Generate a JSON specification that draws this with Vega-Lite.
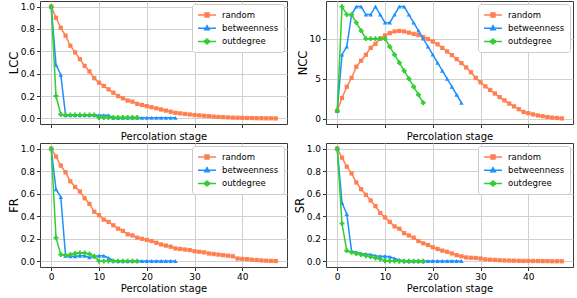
{
"$schema":"https://vega.github.io/schema/vega-lite/v6.json",
"padding":{"left":7,"top":0,"right":0,"bottom":0},
"config":{"font":"DejaVu Sans","view":{"stroke":"#3a3a3a","strokeWidth":1},
"axis":{"grid":true,"gridColor":"#d0d0d0","gridWidth":1,"domain":false,"tickColor":"#333","tickSize":3.5,"labelFontSize":9,"labelColor":"#000","titleFontSize":10,"titleFontWeight":"normal","titleColor":"#000","labelPadding":2,"titlePadding":2},
"axisY":{"titleFontSize":11.5,"titlePadding":1},
"legend":{"title":null,"orient":"top-right","offset":3,"fillColor":"white","strokeColor":"#cccccc","cornerRadius":3,"padding":5,"labelFontSize":8.5,"labelColor":"#000","symbolSize":100,"symbolOffset":4,"labelOffset":9,"rowPadding":2.2}},
"bounds":"flush",
"columns":2,
"spacing":{"row":19,"column":39},
"datasets":{"d":[
{"m":"LCC","s":"random","x":0,"y":1.0},{"m":"LCC","s":"random","x":1,"y":0.90},{"m":"LCC","s":"random","x":2,"y":0.81},{"m":"LCC","s":"random","x":3,"y":0.74},{"m":"LCC","s":"random","x":4,"y":0.65},{"m":"LCC","s":"random","x":5,"y":0.59},{"m":"LCC","s":"random","x":6,"y":0.53},{"m":"LCC","s":"random","x":7,"y":0.47},{"m":"LCC","s":"random","x":8,"y":0.42},{"m":"LCC","s":"random","x":9,"y":0.36},{"m":"LCC","s":"random","x":10,"y":0.32},{"m":"LCC","s":"random","x":11,"y":0.29},{"m":"LCC","s":"random","x":12,"y":0.26},{"m":"LCC","s":"random","x":13,"y":0.23},{"m":"LCC","s":"random","x":14,"y":0.20},{"m":"LCC","s":"random","x":15,"y":0.18},{"m":"LCC","s":"random","x":16,"y":0.16},{"m":"LCC","s":"random","x":17,"y":0.15},{"m":"LCC","s":"random","x":18,"y":0.13},{"m":"LCC","s":"random","x":19,"y":0.12},{"m":"LCC","s":"random","x":20,"y":0.11},{"m":"LCC","s":"random","x":21,"y":0.10},{"m":"LCC","s":"random","x":22,"y":0.09},{"m":"LCC","s":"random","x":23,"y":0.08},{"m":"LCC","s":"random","x":24,"y":0.07},{"m":"LCC","s":"random","x":25,"y":0.06},{"m":"LCC","s":"random","x":26,"y":0.05},{"m":"LCC","s":"random","x":27,"y":0.045},{"m":"LCC","s":"random","x":28,"y":0.04},{"m":"LCC","s":"random","x":29,"y":0.035},{"m":"LCC","s":"random","x":30,"y":0.03},{"m":"LCC","s":"random","x":31,"y":0.027},{"m":"LCC","s":"random","x":32,"y":0.024},{"m":"LCC","s":"random","x":33,"y":0.02},{"m":"LCC","s":"random","x":34,"y":0.016},{"m":"LCC","s":"random","x":35,"y":0.013},{"m":"LCC","s":"random","x":36,"y":0.011},{"m":"LCC","s":"random","x":37,"y":0.009},{"m":"LCC","s":"random","x":38,"y":0.007},{"m":"LCC","s":"random","x":39,"y":0.006},{"m":"LCC","s":"random","x":40,"y":0.005},{"m":"LCC","s":"random","x":41,"y":0.004},{"m":"LCC","s":"random","x":42,"y":0.003},{"m":"LCC","s":"random","x":43,"y":0.002},{"m":"LCC","s":"random","x":44,"y":0.002},{"m":"LCC","s":"random","x":45,"y":0.001},{"m":"LCC","s":"random","x":46,"y":0.001},{"m":"LCC","s":"random","x":47,"y":0.0},
{"m":"LCC","s":"betweenness","x":0,"y":1.0},{"m":"LCC","s":"betweenness","x":1,"y":0.48},{"m":"LCC","s":"betweenness","x":2,"y":0.39},{"m":"LCC","s":"betweenness","x":3,"y":0.03},{"m":"LCC","s":"betweenness","x":4,"y":0.03},{"m":"LCC","s":"betweenness","x":5,"y":0.03},{"m":"LCC","s":"betweenness","x":6,"y":0.03},{"m":"LCC","s":"betweenness","x":7,"y":0.03},{"m":"LCC","s":"betweenness","x":8,"y":0.03},{"m":"LCC","s":"betweenness","x":9,"y":0.03},{"m":"LCC","s":"betweenness","x":10,"y":0.028},{"m":"LCC","s":"betweenness","x":11,"y":0.028},{"m":"LCC","s":"betweenness","x":12,"y":0.028},{"m":"LCC","s":"betweenness","x":13,"y":0.005},{"m":"LCC","s":"betweenness","x":14,"y":0.005},{"m":"LCC","s":"betweenness","x":15,"y":0.005},{"m":"LCC","s":"betweenness","x":16,"y":0.005},{"m":"LCC","s":"betweenness","x":17,"y":0.005},{"m":"LCC","s":"betweenness","x":18,"y":0.005},{"m":"LCC","s":"betweenness","x":19,"y":0.005},{"m":"LCC","s":"betweenness","x":20,"y":0.005},{"m":"LCC","s":"betweenness","x":21,"y":0.005},{"m":"LCC","s":"betweenness","x":22,"y":0.005},{"m":"LCC","s":"betweenness","x":23,"y":0.005},{"m":"LCC","s":"betweenness","x":24,"y":0.005},{"m":"LCC","s":"betweenness","x":25,"y":0.005},{"m":"LCC","s":"betweenness","x":26,"y":0.005},
{"m":"LCC","s":"outdegree","x":0,"y":1.0},{"m":"LCC","s":"outdegree","x":1,"y":0.20},{"m":"LCC","s":"outdegree","x":2,"y":0.035},{"m":"LCC","s":"outdegree","x":3,"y":0.03},{"m":"LCC","s":"outdegree","x":4,"y":0.03},{"m":"LCC","s":"outdegree","x":5,"y":0.03},{"m":"LCC","s":"outdegree","x":6,"y":0.03},{"m":"LCC","s":"outdegree","x":7,"y":0.03},{"m":"LCC","s":"outdegree","x":8,"y":0.03},{"m":"LCC","s":"outdegree","x":9,"y":0.03},{"m":"LCC","s":"outdegree","x":10,"y":0.008},{"m":"LCC","s":"outdegree","x":11,"y":0.008},{"m":"LCC","s":"outdegree","x":12,"y":0.008},{"m":"LCC","s":"outdegree","x":13,"y":0.008},{"m":"LCC","s":"outdegree","x":14,"y":0.008},{"m":"LCC","s":"outdegree","x":15,"y":0.008},{"m":"LCC","s":"outdegree","x":16,"y":0.008},{"m":"LCC","s":"outdegree","x":17,"y":0.008},{"m":"LCC","s":"outdegree","x":18,"y":0.008},
{"m":"NCC","s":"random","x":0,"y":1},{"m":"NCC","s":"random","x":1,"y":2.6},{"m":"NCC","s":"random","x":2,"y":4.0},{"m":"NCC","s":"random","x":3,"y":5.1},{"m":"NCC","s":"random","x":4,"y":6.5},{"m":"NCC","s":"random","x":5,"y":7.25},{"m":"NCC","s":"random","x":6,"y":8.0},{"m":"NCC","s":"random","x":7,"y":8.85},{"m":"NCC","s":"random","x":8,"y":9.35},{"m":"NCC","s":"random","x":9,"y":10.0},{"m":"NCC","s":"random","x":10,"y":10.4},{"m":"NCC","s":"random","x":11,"y":10.7},{"m":"NCC","s":"random","x":12,"y":10.9},{"m":"NCC","s":"random","x":13,"y":10.97},{"m":"NCC","s":"random","x":14,"y":10.9},{"m":"NCC","s":"random","x":15,"y":10.75},{"m":"NCC","s":"random","x":16,"y":10.6},{"m":"NCC","s":"random","x":17,"y":10.45},{"m":"NCC","s":"random","x":18,"y":10.2},{"m":"NCC","s":"random","x":19,"y":9.95},{"m":"NCC","s":"random","x":20,"y":9.65},{"m":"NCC","s":"random","x":21,"y":9.3},{"m":"NCC","s":"random","x":22,"y":8.85},{"m":"NCC","s":"random","x":23,"y":8.4},{"m":"NCC","s":"random","x":24,"y":7.95},{"m":"NCC","s":"random","x":25,"y":7.45},{"m":"NCC","s":"random","x":26,"y":6.95},{"m":"NCC","s":"random","x":27,"y":6.4},{"m":"NCC","s":"random","x":28,"y":5.8},{"m":"NCC","s":"random","x":29,"y":5.1},{"m":"NCC","s":"random","x":30,"y":4.55},{"m":"NCC","s":"random","x":31,"y":4.05},{"m":"NCC","s":"random","x":32,"y":3.6},{"m":"NCC","s":"random","x":33,"y":3.15},{"m":"NCC","s":"random","x":34,"y":2.7},{"m":"NCC","s":"random","x":35,"y":2.3},{"m":"NCC","s":"random","x":36,"y":1.9},{"m":"NCC","s":"random","x":37,"y":1.55},{"m":"NCC","s":"random","x":38,"y":1.2},{"m":"NCC","s":"random","x":39,"y":0.85},{"m":"NCC","s":"random","x":40,"y":0.7},{"m":"NCC","s":"random","x":41,"y":0.55},{"m":"NCC","s":"random","x":42,"y":0.42},{"m":"NCC","s":"random","x":43,"y":0.32},{"m":"NCC","s":"random","x":44,"y":0.22},{"m":"NCC","s":"random","x":45,"y":0.15},{"m":"NCC","s":"random","x":46,"y":0.1},{"m":"NCC","s":"random","x":47,"y":0.05},
{"m":"NCC","s":"betweenness","x":0,"y":1},{"m":"NCC","s":"betweenness","x":1,"y":8},{"m":"NCC","s":"betweenness","x":2,"y":9},{"m":"NCC","s":"betweenness","x":3,"y":13},{"m":"NCC","s":"betweenness","x":4,"y":14},{"m":"NCC","s":"betweenness","x":5,"y":14},{"m":"NCC","s":"betweenness","x":6,"y":13},{"m":"NCC","s":"betweenness","x":7,"y":13},{"m":"NCC","s":"betweenness","x":8,"y":14},{"m":"NCC","s":"betweenness","x":9,"y":13},{"m":"NCC","s":"betweenness","x":10,"y":12},{"m":"NCC","s":"betweenness","x":11,"y":12},{"m":"NCC","s":"betweenness","x":12,"y":13},{"m":"NCC","s":"betweenness","x":13,"y":14},{"m":"NCC","s":"betweenness","x":14,"y":14},{"m":"NCC","s":"betweenness","x":15,"y":13},{"m":"NCC","s":"betweenness","x":16,"y":12},{"m":"NCC","s":"betweenness","x":17,"y":11},{"m":"NCC","s":"betweenness","x":18,"y":10},{"m":"NCC","s":"betweenness","x":19,"y":9},{"m":"NCC","s":"betweenness","x":20,"y":8},{"m":"NCC","s":"betweenness","x":21,"y":7},{"m":"NCC","s":"betweenness","x":22,"y":6},{"m":"NCC","s":"betweenness","x":23,"y":5},{"m":"NCC","s":"betweenness","x":24,"y":4},{"m":"NCC","s":"betweenness","x":25,"y":3},{"m":"NCC","s":"betweenness","x":26,"y":2},
{"m":"NCC","s":"outdegree","x":0,"y":1},{"m":"NCC","s":"outdegree","x":1,"y":14},{"m":"NCC","s":"outdegree","x":2,"y":13},{"m":"NCC","s":"outdegree","x":3,"y":13},{"m":"NCC","s":"outdegree","x":4,"y":12},{"m":"NCC","s":"outdegree","x":5,"y":11},{"m":"NCC","s":"outdegree","x":6,"y":10},{"m":"NCC","s":"outdegree","x":7,"y":10},{"m":"NCC","s":"outdegree","x":8,"y":10},{"m":"NCC","s":"outdegree","x":9,"y":10},{"m":"NCC","s":"outdegree","x":10,"y":10},{"m":"NCC","s":"outdegree","x":11,"y":9},{"m":"NCC","s":"outdegree","x":12,"y":8},{"m":"NCC","s":"outdegree","x":13,"y":7},{"m":"NCC","s":"outdegree","x":14,"y":6},{"m":"NCC","s":"outdegree","x":15,"y":5},{"m":"NCC","s":"outdegree","x":16,"y":4},{"m":"NCC","s":"outdegree","x":17,"y":3},{"m":"NCC","s":"outdegree","x":18,"y":2},
{"m":"FR","s":"random","x":0,"y":1.0},{"m":"FR","s":"random","x":1,"y":0.93},{"m":"FR","s":"random","x":2,"y":0.85},{"m":"FR","s":"random","x":3,"y":0.79},{"m":"FR","s":"random","x":4,"y":0.71},{"m":"FR","s":"random","x":5,"y":0.66},{"m":"FR","s":"random","x":6,"y":0.62},{"m":"FR","s":"random","x":7,"y":0.56},{"m":"FR","s":"random","x":8,"y":0.51},{"m":"FR","s":"random","x":9,"y":0.44},{"m":"FR","s":"random","x":10,"y":0.41},{"m":"FR","s":"random","x":11,"y":0.37},{"m":"FR","s":"random","x":12,"y":0.35},{"m":"FR","s":"random","x":13,"y":0.32},{"m":"FR","s":"random","x":14,"y":0.29},{"m":"FR","s":"random","x":15,"y":0.27},{"m":"FR","s":"random","x":16,"y":0.24},{"m":"FR","s":"random","x":17,"y":0.23},{"m":"FR","s":"random","x":18,"y":0.21},{"m":"FR","s":"random","x":19,"y":0.20},{"m":"FR","s":"random","x":20,"y":0.19},{"m":"FR","s":"random","x":21,"y":0.18},{"m":"FR","s":"random","x":22,"y":0.165},{"m":"FR","s":"random","x":23,"y":0.15},{"m":"FR","s":"random","x":24,"y":0.14},{"m":"FR","s":"random","x":25,"y":0.13},{"m":"FR","s":"random","x":26,"y":0.115},{"m":"FR","s":"random","x":27,"y":0.11},{"m":"FR","s":"random","x":28,"y":0.105},{"m":"FR","s":"random","x":29,"y":0.10},{"m":"FR","s":"random","x":30,"y":0.09},{"m":"FR","s":"random","x":31,"y":0.085},{"m":"FR","s":"random","x":32,"y":0.08},{"m":"FR","s":"random","x":33,"y":0.07},{"m":"FR","s":"random","x":34,"y":0.065},{"m":"FR","s":"random","x":35,"y":0.06},{"m":"FR","s":"random","x":36,"y":0.055},{"m":"FR","s":"random","x":37,"y":0.05},{"m":"FR","s":"random","x":38,"y":0.045},{"m":"FR","s":"random","x":39,"y":0.025},{"m":"FR","s":"random","x":40,"y":0.022},{"m":"FR","s":"random","x":41,"y":0.02},{"m":"FR","s":"random","x":42,"y":0.015},{"m":"FR","s":"random","x":43,"y":0.012},{"m":"FR","s":"random","x":44,"y":0.008},{"m":"FR","s":"random","x":45,"y":0.006},{"m":"FR","s":"random","x":46,"y":0.004},{"m":"FR","s":"random","x":47,"y":0.003},
{"m":"FR","s":"betweenness","x":0,"y":1.0},{"m":"FR","s":"betweenness","x":1,"y":0.64},{"m":"FR","s":"betweenness","x":2,"y":0.57},{"m":"FR","s":"betweenness","x":3,"y":0.05},{"m":"FR","s":"betweenness","x":4,"y":0.045},{"m":"FR","s":"betweenness","x":5,"y":0.045},{"m":"FR","s":"betweenness","x":6,"y":0.05},{"m":"FR","s":"betweenness","x":7,"y":0.05},{"m":"FR","s":"betweenness","x":8,"y":0.035},{"m":"FR","s":"betweenness","x":9,"y":0.045},{"m":"FR","s":"betweenness","x":10,"y":0.05},{"m":"FR","s":"betweenness","x":11,"y":0.05},{"m":"FR","s":"betweenness","x":12,"y":0.03},{"m":"FR","s":"betweenness","x":13,"y":0.008},{"m":"FR","s":"betweenness","x":14,"y":0.003},{"m":"FR","s":"betweenness","x":15,"y":0.003},{"m":"FR","s":"betweenness","x":16,"y":0.003},{"m":"FR","s":"betweenness","x":17,"y":0.003},{"m":"FR","s":"betweenness","x":18,"y":0.003},{"m":"FR","s":"betweenness","x":19,"y":0.003},{"m":"FR","s":"betweenness","x":20,"y":0.003},{"m":"FR","s":"betweenness","x":21,"y":0.003},{"m":"FR","s":"betweenness","x":22,"y":0.003},{"m":"FR","s":"betweenness","x":23,"y":0.003},{"m":"FR","s":"betweenness","x":24,"y":0.003},{"m":"FR","s":"betweenness","x":25,"y":0.003},{"m":"FR","s":"betweenness","x":26,"y":0.003},
{"m":"FR","s":"outdegree","x":0,"y":1.0},{"m":"FR","s":"outdegree","x":1,"y":0.21},{"m":"FR","s":"outdegree","x":2,"y":0.06},{"m":"FR","s":"outdegree","x":3,"y":0.055},{"m":"FR","s":"outdegree","x":4,"y":0.06},{"m":"FR","s":"outdegree","x":5,"y":0.07},{"m":"FR","s":"outdegree","x":6,"y":0.075},{"m":"FR","s":"outdegree","x":7,"y":0.075},{"m":"FR","s":"outdegree","x":8,"y":0.065},{"m":"FR","s":"outdegree","x":9,"y":0.045},{"m":"FR","s":"outdegree","x":10,"y":0.002},{"m":"FR","s":"outdegree","x":11,"y":0.002},{"m":"FR","s":"outdegree","x":12,"y":0.002},{"m":"FR","s":"outdegree","x":13,"y":0.002},{"m":"FR","s":"outdegree","x":14,"y":0.002},{"m":"FR","s":"outdegree","x":15,"y":0.002},{"m":"FR","s":"outdegree","x":16,"y":0.002},{"m":"FR","s":"outdegree","x":17,"y":0.002},{"m":"FR","s":"outdegree","x":18,"y":0.002},
{"m":"SR","s":"random","x":0,"y":1.0},{"m":"SR","s":"random","x":1,"y":0.92},{"m":"SR","s":"random","x":2,"y":0.84},{"m":"SR","s":"random","x":3,"y":0.78},{"m":"SR","s":"random","x":4,"y":0.70},{"m":"SR","s":"random","x":5,"y":0.64},{"m":"SR","s":"random","x":6,"y":0.59},{"m":"SR","s":"random","x":7,"y":0.54},{"m":"SR","s":"random","x":8,"y":0.49},{"m":"SR","s":"random","x":9,"y":0.43},{"m":"SR","s":"random","x":10,"y":0.39},{"m":"SR","s":"random","x":11,"y":0.35},{"m":"SR","s":"random","x":12,"y":0.31},{"m":"SR","s":"random","x":13,"y":0.29},{"m":"SR","s":"random","x":14,"y":0.25},{"m":"SR","s":"random","x":15,"y":0.23},{"m":"SR","s":"random","x":16,"y":0.21},{"m":"SR","s":"random","x":17,"y":0.18},{"m":"SR","s":"random","x":18,"y":0.16},{"m":"SR","s":"random","x":19,"y":0.145},{"m":"SR","s":"random","x":20,"y":0.125},{"m":"SR","s":"random","x":21,"y":0.11},{"m":"SR","s":"random","x":22,"y":0.095},{"m":"SR","s":"random","x":23,"y":0.085},{"m":"SR","s":"random","x":24,"y":0.07},{"m":"SR","s":"random","x":25,"y":0.055},{"m":"SR","s":"random","x":26,"y":0.045},{"m":"SR","s":"random","x":27,"y":0.035},{"m":"SR","s":"random","x":28,"y":0.032},{"m":"SR","s":"random","x":29,"y":0.03},{"m":"SR","s":"random","x":30,"y":0.025},{"m":"SR","s":"random","x":31,"y":0.018},{"m":"SR","s":"random","x":32,"y":0.015},{"m":"SR","s":"random","x":33,"y":0.013},{"m":"SR","s":"random","x":34,"y":0.01},{"m":"SR","s":"random","x":35,"y":0.008},{"m":"SR","s":"random","x":36,"y":0.007},{"m":"SR","s":"random","x":37,"y":0.006},{"m":"SR","s":"random","x":38,"y":0.005},{"m":"SR","s":"random","x":39,"y":0.004},{"m":"SR","s":"random","x":40,"y":0.004},{"m":"SR","s":"random","x":41,"y":0.003},{"m":"SR","s":"random","x":42,"y":0.003},{"m":"SR","s":"random","x":43,"y":0.002},{"m":"SR","s":"random","x":44,"y":0.002},{"m":"SR","s":"random","x":45,"y":0.001},{"m":"SR","s":"random","x":46,"y":0.001},{"m":"SR","s":"random","x":47,"y":0.001},
{"m":"SR","s":"betweenness","x":0,"y":1.0},{"m":"SR","s":"betweenness","x":1,"y":0.52},{"m":"SR","s":"betweenness","x":2,"y":0.42},{"m":"SR","s":"betweenness","x":3,"y":0.09},{"m":"SR","s":"betweenness","x":4,"y":0.08},{"m":"SR","s":"betweenness","x":5,"y":0.07},{"m":"SR","s":"betweenness","x":6,"y":0.065},{"m":"SR","s":"betweenness","x":7,"y":0.06},{"m":"SR","s":"betweenness","x":8,"y":0.05},{"m":"SR","s":"betweenness","x":9,"y":0.045},{"m":"SR","s":"betweenness","x":10,"y":0.045},{"m":"SR","s":"betweenness","x":11,"y":0.04},{"m":"SR","s":"betweenness","x":12,"y":0.025},{"m":"SR","s":"betweenness","x":13,"y":0.012},{"m":"SR","s":"betweenness","x":14,"y":0.005},{"m":"SR","s":"betweenness","x":15,"y":0.003},{"m":"SR","s":"betweenness","x":16,"y":0.003},{"m":"SR","s":"betweenness","x":17,"y":0.003},{"m":"SR","s":"betweenness","x":18,"y":0.003},{"m":"SR","s":"betweenness","x":19,"y":0.003},{"m":"SR","s":"betweenness","x":20,"y":0.003},{"m":"SR","s":"betweenness","x":21,"y":0.003},{"m":"SR","s":"betweenness","x":22,"y":0.003},{"m":"SR","s":"betweenness","x":23,"y":0.003},{"m":"SR","s":"betweenness","x":24,"y":0.003},{"m":"SR","s":"betweenness","x":25,"y":0.003},{"m":"SR","s":"betweenness","x":26,"y":0.003},
{"m":"SR","s":"outdegree","x":0,"y":1.0},{"m":"SR","s":"outdegree","x":1,"y":0.335},{"m":"SR","s":"outdegree","x":2,"y":0.095},{"m":"SR","s":"outdegree","x":3,"y":0.08},{"m":"SR","s":"outdegree","x":4,"y":0.07},{"m":"SR","s":"outdegree","x":5,"y":0.06},{"m":"SR","s":"outdegree","x":6,"y":0.05},{"m":"SR","s":"outdegree","x":7,"y":0.04},{"m":"SR","s":"outdegree","x":8,"y":0.03},{"m":"SR","s":"outdegree","x":9,"y":0.02},{"m":"SR","s":"outdegree","x":10,"y":0.006},{"m":"SR","s":"outdegree","x":11,"y":0.003},{"m":"SR","s":"outdegree","x":12,"y":0.002},{"m":"SR","s":"outdegree","x":13,"y":0.001},{"m":"SR","s":"outdegree","x":14,"y":0.001},{"m":"SR","s":"outdegree","x":15,"y":0.001},{"m":"SR","s":"outdegree","x":16,"y":0.001},{"m":"SR","s":"outdegree","x":17,"y":0.001},{"m":"SR","s":"outdegree","x":18,"y":0.001}
]},
"data":{"name":"d"},
"concat":[
{"width":247,"height":123,"transform":[{"filter":"datum.m==='LCC'"}],
 "encoding":{
  "x":{"field":"x","type":"quantitative","scale":{"domain":[-2.35,49.35],"nice":false,"zero":false},"axis":{"values":[0,10,20,30,40],"labels":false,"title":"Percolation stage","titlePadding":3}},
  "y":{"field":"y","type":"quantitative","scale":{"domain":[-0.05,1.05],"nice":false,"zero":false},"axis":{"values":[0,0.2,0.4,0.6,0.8,1.0],"format":".1f","title":"LCC"}},
  "color":{"field":"s","type":"nominal","scale":{"domain":["random","betweenness","outdegree"],"range":["#FF7F50","#1E90FF","#32CD32"]},
   "legend":{"encode":{"symbols":{"update":{"shape":{"signal":"datum.value==='random'?'M-1.8,0H1.8M-0.4,-0.4H0.4V0.4H-0.4Z':datum.value==='betweenness'?'M-1.8,0H1.8M0,-0.5L0.45,0.3H-0.45Z':'M-1.8,0H1.8M-0.15,-0.45H0.15V-0.15H0.45V0.15H0.15V0.45H-0.15V0.15H-0.45V-0.15H-0.15Z'"},"fill":{"signal":"datum.value==='random'?'#FF7F50':datum.value==='betweenness'?'#1E90FF':'#32CD32'"},"stroke":{"signal":"datum.value==='random'?'#FF7F50':datum.value==='betweenness'?'#1E90FF':'#32CD32'"},"strokeWidth":{"value":1.5},"opacity":{"value":1}}}}}}
 },
 "layer":[
  {"transform":[{"filter":"datum.s==='random'"}],"mark":{"type":"line","strokeWidth":1.5}},
  {"transform":[{"filter":"datum.s==='random'"}],"mark":{"type":"point","shape":"square","filled":true,"opacity":1,"size":18}},
  {"transform":[{"filter":"datum.s==='betweenness'"}],"mark":{"type":"line","strokeWidth":1.5}},
  {"transform":[{"filter":"datum.s==='betweenness'"}],"mark":{"type":"point","shape":"triangle-up","filled":true,"opacity":1,"size":20}},
  {"transform":[{"filter":"datum.s==='outdegree'"}],"mark":{"type":"line","strokeWidth":1.5}},
  {"transform":[{"filter":"datum.s==='outdegree'"}],"mark":{"type":"point","shape":"cross","filled":true,"opacity":1,"size":24}}
 ]},
{"width":247,"height":123,"transform":[{"filter":"datum.m==='NCC'"}],
 "encoding":{
  "x":{"field":"x","type":"quantitative","scale":{"domain":[-2.35,49.35],"nice":false,"zero":false},"axis":{"values":[0,10,20,30,40],"labels":false,"title":"Percolation stage","titlePadding":3}},
  "y":{"field":"y","type":"quantitative","scale":{"domain":[-0.65,14.7],"nice":false,"zero":false},"axis":{"values":[0,5,10],"title":"NCC"}},
  "color":{"field":"s","type":"nominal","scale":{"domain":["random","betweenness","outdegree"],"range":["#FF7F50","#1E90FF","#32CD32"]},
   "legend":{"encode":{"symbols":{"update":{"shape":{"signal":"datum.value==='random'?'M-1.8,0H1.8M-0.4,-0.4H0.4V0.4H-0.4Z':datum.value==='betweenness'?'M-1.8,0H1.8M0,-0.5L0.45,0.3H-0.45Z':'M-1.8,0H1.8M-0.15,-0.45H0.15V-0.15H0.45V0.15H0.15V0.45H-0.15V0.15H-0.45V-0.15H-0.15Z'"},"fill":{"signal":"datum.value==='random'?'#FF7F50':datum.value==='betweenness'?'#1E90FF':'#32CD32'"},"stroke":{"signal":"datum.value==='random'?'#FF7F50':datum.value==='betweenness'?'#1E90FF':'#32CD32'"},"strokeWidth":{"value":1.5},"opacity":{"value":1}}}}}}
 },
 "layer":[
  {"transform":[{"filter":"datum.s==='random'"}],"mark":{"type":"line","strokeWidth":1.5}},
  {"transform":[{"filter":"datum.s==='random'"}],"mark":{"type":"point","shape":"square","filled":true,"opacity":1,"size":18}},
  {"transform":[{"filter":"datum.s==='betweenness'"}],"mark":{"type":"line","strokeWidth":1.5}},
  {"transform":[{"filter":"datum.s==='betweenness'"}],"mark":{"type":"point","shape":"triangle-up","filled":true,"opacity":1,"size":20}},
  {"transform":[{"filter":"datum.s==='outdegree'"}],"mark":{"type":"line","strokeWidth":1.5}},
  {"transform":[{"filter":"datum.s==='outdegree'"}],"mark":{"type":"point","shape":"cross","filled":true,"opacity":1,"size":24}}
 ]},
{"width":247,"height":124,"transform":[{"filter":"datum.m==='FR'"}],
 "encoding":{
  "x":{"field":"x","type":"quantitative","scale":{"domain":[-2.35,49.35],"nice":false,"zero":false},"axis":{"values":[0,10,20,30,40],"title":"Percolation stage","titlePadding":2}},
  "y":{"field":"y","type":"quantitative","scale":{"domain":[-0.05,1.05],"nice":false,"zero":false},"axis":{"values":[0,0.2,0.4,0.6,0.8,1.0],"format":".1f","title":"FR"}},
  "color":{"field":"s","type":"nominal","scale":{"domain":["random","betweenness","outdegree"],"range":["#FF7F50","#1E90FF","#32CD32"]},
   "legend":{"encode":{"symbols":{"update":{"shape":{"signal":"datum.value==='random'?'M-1.8,0H1.8M-0.4,-0.4H0.4V0.4H-0.4Z':datum.value==='betweenness'?'M-1.8,0H1.8M0,-0.5L0.45,0.3H-0.45Z':'M-1.8,0H1.8M-0.15,-0.45H0.15V-0.15H0.45V0.15H0.15V0.45H-0.15V0.15H-0.45V-0.15H-0.15Z'"},"fill":{"signal":"datum.value==='random'?'#FF7F50':datum.value==='betweenness'?'#1E90FF':'#32CD32'"},"stroke":{"signal":"datum.value==='random'?'#FF7F50':datum.value==='betweenness'?'#1E90FF':'#32CD32'"},"strokeWidth":{"value":1.5},"opacity":{"value":1}}}}}}
 },
 "layer":[
  {"transform":[{"filter":"datum.s==='random'"}],"mark":{"type":"line","strokeWidth":1.5}},
  {"transform":[{"filter":"datum.s==='random'"}],"mark":{"type":"point","shape":"square","filled":true,"opacity":1,"size":18}},
  {"transform":[{"filter":"datum.s==='betweenness'"}],"mark":{"type":"line","strokeWidth":1.5}},
  {"transform":[{"filter":"datum.s==='betweenness'"}],"mark":{"type":"point","shape":"triangle-up","filled":true,"opacity":1,"size":20}},
  {"transform":[{"filter":"datum.s==='outdegree'"}],"mark":{"type":"line","strokeWidth":1.5}},
  {"transform":[{"filter":"datum.s==='outdegree'"}],"mark":{"type":"point","shape":"cross","filled":true,"opacity":1,"size":24}}
 ]},
{"width":247,"height":124,"transform":[{"filter":"datum.m==='SR'"}],
 "encoding":{
  "x":{"field":"x","type":"quantitative","scale":{"domain":[-2.35,49.35],"nice":false,"zero":false},"axis":{"values":[0,10,20,30,40],"title":"Percolation stage","titlePadding":2}},
  "y":{"field":"y","type":"quantitative","scale":{"domain":[-0.05,1.05],"nice":false,"zero":false},"axis":{"values":[0,0.2,0.4,0.6,0.8,1.0],"format":".1f","title":"SR"}},
  "color":{"field":"s","type":"nominal","scale":{"domain":["random","betweenness","outdegree"],"range":["#FF7F50","#1E90FF","#32CD32"]},
   "legend":{"encode":{"symbols":{"update":{"shape":{"signal":"datum.value==='random'?'M-1.8,0H1.8M-0.4,-0.4H0.4V0.4H-0.4Z':datum.value==='betweenness'?'M-1.8,0H1.8M0,-0.5L0.45,0.3H-0.45Z':'M-1.8,0H1.8M-0.15,-0.45H0.15V-0.15H0.45V0.15H0.15V0.45H-0.15V0.15H-0.45V-0.15H-0.15Z'"},"fill":{"signal":"datum.value==='random'?'#FF7F50':datum.value==='betweenness'?'#1E90FF':'#32CD32'"},"stroke":{"signal":"datum.value==='random'?'#FF7F50':datum.value==='betweenness'?'#1E90FF':'#32CD32'"},"strokeWidth":{"value":1.5},"opacity":{"value":1}}}}}}
 },
 "layer":[
  {"transform":[{"filter":"datum.s==='random'"}],"mark":{"type":"line","strokeWidth":1.5}},
  {"transform":[{"filter":"datum.s==='random'"}],"mark":{"type":"point","shape":"square","filled":true,"opacity":1,"size":18}},
  {"transform":[{"filter":"datum.s==='betweenness'"}],"mark":{"type":"line","strokeWidth":1.5}},
  {"transform":[{"filter":"datum.s==='betweenness'"}],"mark":{"type":"point","shape":"triangle-up","filled":true,"opacity":1,"size":20}},
  {"transform":[{"filter":"datum.s==='outdegree'"}],"mark":{"type":"line","strokeWidth":1.5}},
  {"transform":[{"filter":"datum.s==='outdegree'"}],"mark":{"type":"point","shape":"cross","filled":true,"opacity":1,"size":24}}
 ]}
],
"resolve":{"scale":{"x":"independent","y":"independent","color":"independent"},"legend":{"color":"independent"}}
}
